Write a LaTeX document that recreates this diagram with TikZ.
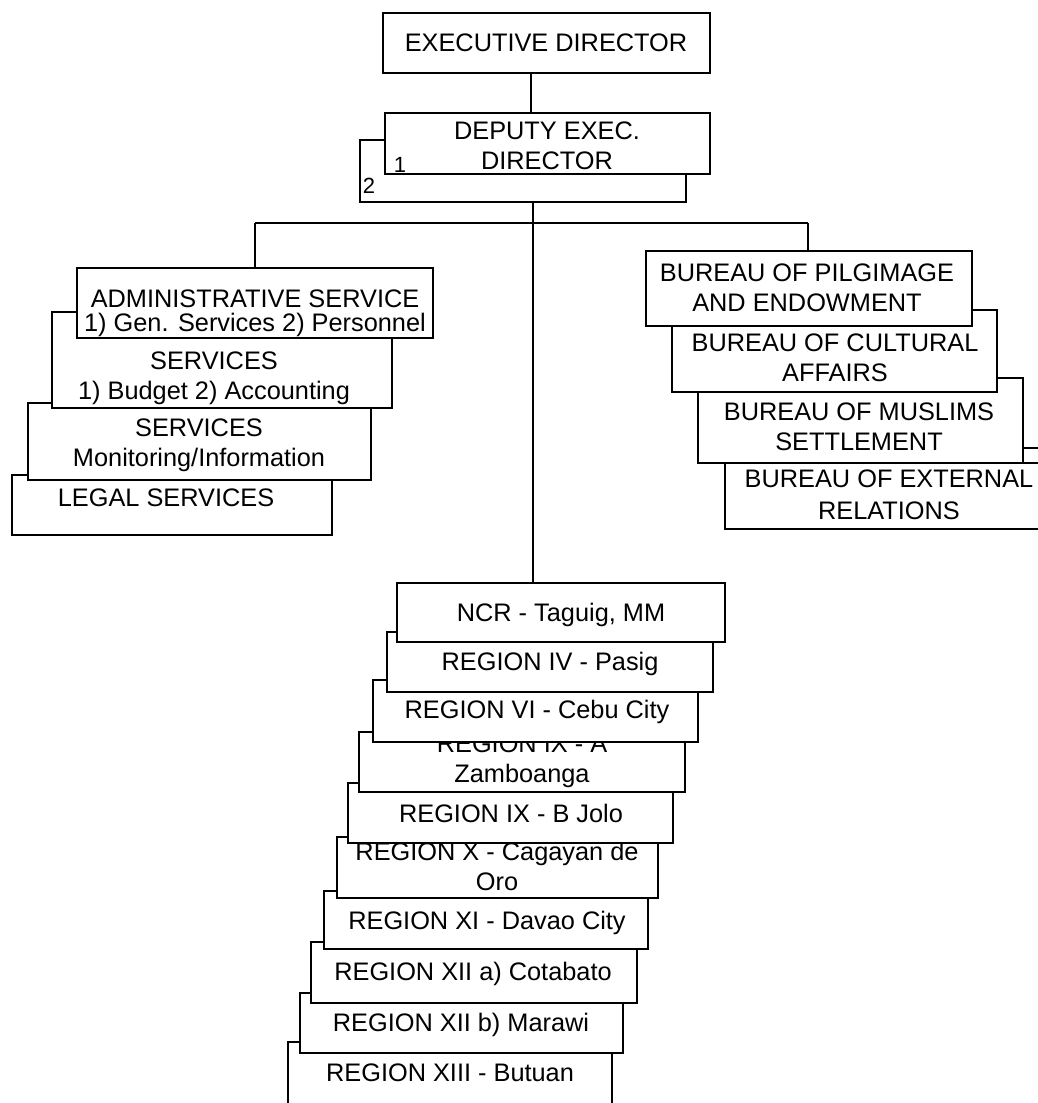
\documentclass[tikz,border=0pt]{standalone}
\usepackage{fontspec}
\setmainfont{Liberation Sans}
\usetikzlibrary{fit}
\begin{document}
\begin{tikzpicture}[x=0.75pt,y=-0.75pt,
  box/.style={draw=black, fill=white, line width=1.3pt, inner sep=0pt, rectangle},
  txt/.style={font=\fontsize{19}{22.5}\selectfont, align=center, inner sep=0pt},
  one/.style={txt, text height=13.6pt, text depth=0pt},
  small/.style={font=\fontsize{16.5}{19}\selectfont, inner sep=0pt},
  link/.style={draw=black, line width=1.3pt}]
\clip (0,0) rectangle (1038,1103);
\fill[white] (0,0) rectangle (1038,1103);

% ---- top ----
\node[box, fit={(360,140) (686,202)}] (dep2) {};
\node[small] (two) at (369,186) {2};
\node[box, fit={(385,113) (710,174)}] (deputy) {};
\node[txt] (deputy-t) at (547,146) {DEPUTY EXEC.\\DIRECTOR};
\node[small] (one) at (400,165) {1};
\node[box, fit={(383,13) (710,73)}] (exec) {};
\node[one] (exec-t) at (546,42) {EXECUTIVE DIRECTOR};

% ---- left group (back to front) ----
\node[box, fit={(12,475) (332,535)}] (legal) {};
\node[one] (legal-t) at (166,497) {LEGAL SERVICES};
\node[box, fit={(28,403) (371,480)}] (monit) {};
\node[txt] (monit-t) at (199,445) {SERVICES\\Monitoring/Information};
\node[box, fit={(52,312) (392,408)}] (budget) {};
\node[txt] (budget-t) at (214,378) {SERVICES\\1) Budget 2) Accounting};
\node[box, fit={(77,268) (433,338)}] (admin) {};
\node[txt, font=\fontsize{19}{18}\selectfont] (admin-t) at (255,313) {ADMINISTRATIVE SERVICE\\1) Gen. Services 2) Personnel};

% ---- right group (back to front) ----
\node[box, fit={(725,463) (1053,529)}] (extern) {};
\node[txt, font=\fontsize{19}{24}\selectfont] (extern-t) at (889,495) {BUREAU OF EXTERNAL\\RELATIONS};
\node[box, fit={(698,378) (1023,463)}] (muslim) {};
\node[txt] (muslim-t) at (859,427) {BUREAU OF MUSLIMS\\SETTLEMENT};
\node[box, fit={(672,310) (997,392)}] (cultur) {};
\node[txt] (cultur-t) at (835,358) {BUREAU OF CULTURAL\\AFFAIRS};
\node[box, fit={(646,251) (972,326)}] (pilg) {};
\node[txt] (pilg-t) at (807,288) {BUREAU OF PILGIMAGE\\AND ENDOWMENT};

% ---- regions (back to front) ----
\node[box, fit={(288,1042) (612,1110)}] (r13) {};
\node[one] (r13-t) at (450,1072) {REGION XIII - Butuan};
\node[box, fit={(300,993) (623,1053)}] (r12b) {};
\node[one] (r12b-t) at (461,1022) {REGION XII b) Marawi};
\node[box, fit={(311,942) (637,1003)}] (r12a) {};
\node[one] (r12a-t) at (473,971) {REGION XII a) Cotabato};
\node[box, fit={(324,891) (648,949)}] (r11) {};
\node[one] (r11-t) at (487,920) {REGION XI - Davao City};
\node[box, fit={(337,837) (658,898)}] (r10) {};
\node[txt] (r10-t) at (497,866) {REGION X - Cagayan de\\Oro};
\node[box, fit={(348,783) (673,843)}] (r9b) {};
\node[one] (r9b-t) at (511,813) {REGION IX - B Jolo};
\node[box, fit={(359,732) (685,792)}] (r9a) {};
\node[txt] (r9a-t) at (522,761) {REGION IX - A\\Zamboanga};
\node[box, fit={(373,680) (698,742)}] (r6) {};
\node[one] (r6-t) at (537,709) {REGION VI - Cebu City};
\node[box, fit={(387,632) (713,692)}] (r4) {};
\node[one] (r4-t) at (550,661) {REGION IV - Pasig};
\node[box, fit={(397,583) (725,642)}] (ncr) {};
\node[one] (ncr-t) at (561,612) {NCR - Taguig, MM};

% ---- connectors ----
\coordinate (busL) at (255,223);
\coordinate (busR) at (808,223);
\coordinate (edgeR) at (1045,448);
\draw[link] (531,0 |- exec.south) -- (531,0 |- deputy.north);
\draw[link] (533,0 |- dep2.south) -- (533,0 |- ncr.north);
\draw[link] (busL) -- (busR);
\draw[link] (busL) -- (busL |- admin.north);
\draw[link] (busR) -- (busR |- pilg.north);
\draw[link] (muslim.east |- edgeR) -- (edgeR);
\end{tikzpicture}
\end{document}
